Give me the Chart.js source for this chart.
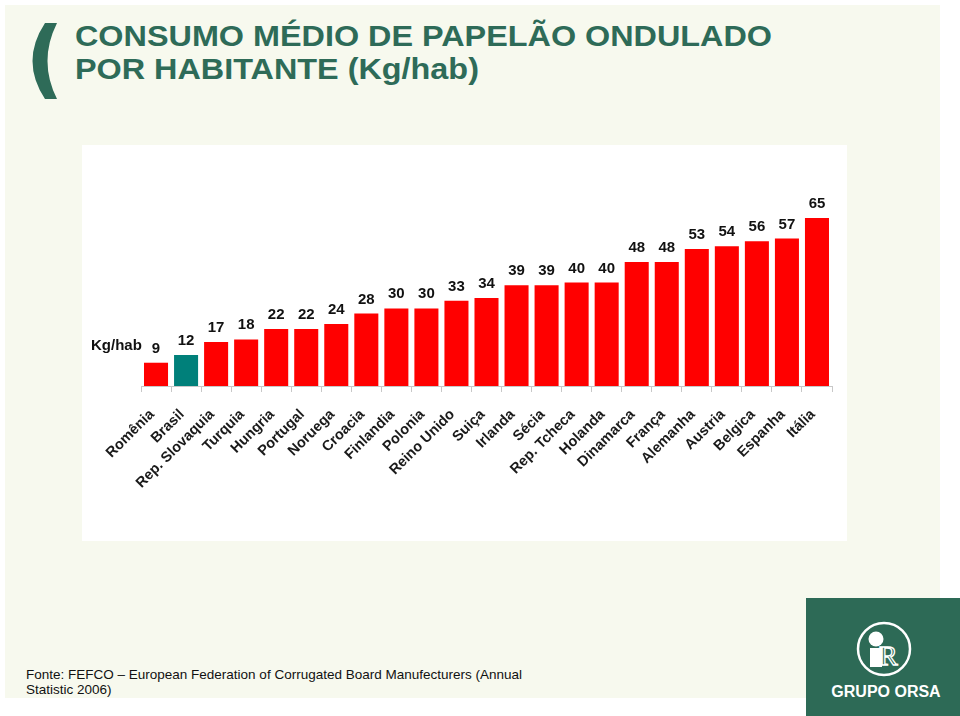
<!DOCTYPE html>
<html>
<head>
<meta charset="utf-8">
<script src="https://cdn.jsdelivr.net/npm/chart.js@4.4.4/dist/chart.umd.min.js"></script>
<style>
  html, body { margin: 0; padding: 0; background: #fff; }
  body { width: 960px; height: 716px; position: relative; overflow: hidden;
         font-family: "Liberation Sans", Arial, sans-serif; }
  #slide { position: absolute; left: 5px; top: 5px; width: 935px; height: 693px; background: #f7f9ee; }
  #paren { position: absolute; left: 0; top: 0; }
  #title { position: absolute; left: 75px; top: 20px; margin: 0; color: #2e6b58;
           font-size: 29px; font-weight: bold; line-height: 33px; white-space: nowrap;
           transform: scaleX(1.116); transform-origin: 0 0; }
  #panel { position: absolute; left: 82px; top: 145px; width: 765px; height: 396px; background: #fff; }
  #source { position: absolute; left: 26px; top: 667px; width: 520px; font-size: 13.5px;
            line-height: 15px; color: #111; }
  #logo { position: absolute; left: 806px; top: 598px; width: 154px; height: 118px; background: #2d6a56; }
</style>
</head>
<body>
<div id="slide"></div>
<svg id="paren" width="80" height="110">
  <path d="M45,23 Q20,61 45,99 L57,99 Q38,61 57,23 Z" fill="#2e6b58"/>
</svg>
<h1 id="title">CONSUMO MÉDIO DE PAPELÃO ONDULADO<br>POR HABITANTE (Kg/hab)</h1>
<div id="panel"><canvas id="chart"></canvas></div>
<div id="source">Fonte: FEFCO – European Federation of Corrugated Board Manufecturers (Annual Statistic 2006)</div>
<div id="logo">
  <svg width="154" height="118">
    <circle cx="78" cy="51" r="26" fill="none" stroke="#fff" stroke-width="2.5"/>
    <circle cx="70" cy="41" r="7.5" fill="#fff"/>
    <rect x="64" y="50" width="12" height="19" fill="#fff"/>
    <text x="73" y="67" font-family="Liberation Serif, serif" font-size="28" fill="none" stroke="#fff" stroke-width="1.3">R</text>
    <text x="80" y="99" text-anchor="middle" font-family="Liberation Sans, Arial, sans-serif" font-weight="bold" font-size="16" fill="#fff">GRUPO ORSA</text>
  </svg>
</div>
<script>
// ── Data ───────────────────────────────────────────────────────────────────
const countries = ['Romênia', 'Brasil', 'Rep. Slovaquia', 'Turquia', 'Hungria', 'Portugal',
  'Noruega', 'Croacia', 'Finlandia', 'Polonia', 'Reino Unido', 'Suiça', 'Irlanda', 'Sécia',
  'Rep. Tcheca', 'Holanda', 'Dinamarca', 'França', 'Alemanha', 'Austria', 'Belgica', 'Espanha', 'Itália'];
const consumo = [9, 12, 17, 18, 22, 22, 24, 28, 30, 30, 33, 34, 39, 39, 40, 40, 48, 48, 53, 54, 56, 57, 65];
const highlight = 'Brasil';
const unitLabel = 'Kg/hab';

const RED  = '#ff0000';
const TEAL = '#00807a';
const AXIS = '#c8c8c8';
const FONT = '"Liberation Sans", Arial, sans-serif';

// value labels above the bars + the unit label at the left
const valueLabels = {
  id: 'valueLabels',
  afterDatasetsDraw(chart) {
    const ctx = chart.ctx;
    ctx.save();
    ctx.fillStyle = '#111';
    ctx.font = `bold 15px ${FONT}`;
    ctx.textAlign = 'center';
    ctx.textBaseline = 'alphabetic';
    chart.getDatasetMeta(0).data.forEach((bar, i) => {
      ctx.fillText(String(consumo[i]), bar.x, bar.y - 10);
    });
    ctx.textAlign = 'left';
    ctx.fillText(unitLabel, 9, 205);
    ctx.restore();
  },
};

new Chart(document.getElementById('chart').getContext('2d'), {
  type: 'bar',
  data: {
    labels: countries,
    datasets: [{
      data: consumo,
      backgroundColor: countries.map(c => c === highlight ? TEAL : RED),
      barPercentage: 0.8,
      categoryPercentage: 1,
    }],
  },
  options: {
    responsive: true,
    maintainAspectRatio: false,
    animation: false,
    layout: { padding: { left: 59, right: 15, top: 60, bottom: 0 } },
    plugins: { legend: { display: false }, tooltip: { enabled: false } },
    scales: {
      x: {
        afterFit: s => { s.height = 155; },
        grid: { display: true, drawOnChartArea: false, drawTicks: true, tickLength: 6, color: AXIS, offset: true },
        border: { color: AXIS },
        ticks: {
          autoSkip: false, minRotation: 45, maxRotation: 45, padding: 14, labelOffset: -4,
          color: '#1a1a1a', font: { family: FONT, size: 14.5, weight: 'bold' },
        },
      },
      y: { display: false, min: 0, max: 70 },
    },
  },
  plugins: [valueLabels],
});
</script>
</body>
</html>
